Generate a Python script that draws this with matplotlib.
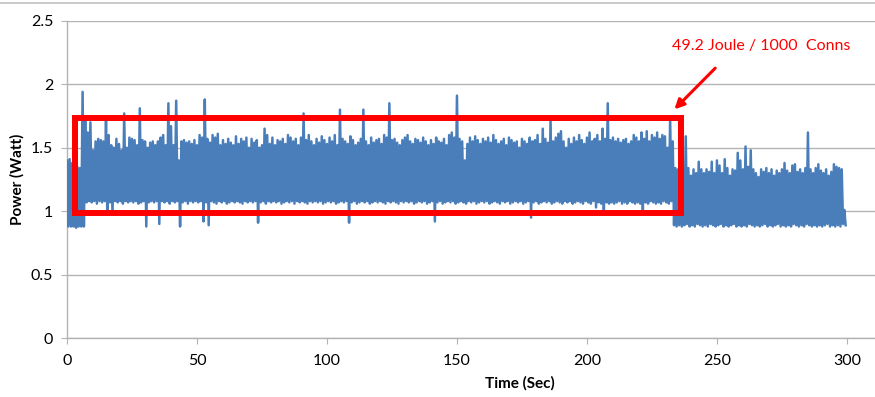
import numpy as np
import matplotlib
matplotlib.use('Agg')
import matplotlib.pyplot as plt
from matplotlib.patches import Rectangle
from matplotlib.lines import Line2D

plt.rcParams['font.family'] = ['Lato', 'DejaVu Sans']

# peak readings (1/100 W) at each whole second, 0..299
hi_vals = [
    140, 141, 138, 143, 135, 134, 194, 173, 162, 170,
    148, 155, 157, 156, 155, 171, 160, 152, 150, 157,
    153, 148, 177, 150, 158, 157, 156, 152, 181, 156,
    155, 150, 154, 155, 152, 155, 158, 160, 152, 185,
    167, 152, 187, 140, 155, 156, 154, 155, 153, 156,
    152, 160, 158, 188, 157, 154, 160, 158, 161, 152,
    156, 153, 157, 154, 152, 159, 153, 157, 155, 158,
    150, 157, 154, 156, 150, 152, 165, 160, 153, 158,
    152, 156, 155, 157, 153, 160, 158, 155, 157, 152,
    158, 177, 156, 160, 155, 152, 157, 154, 159, 156,
    153, 158, 155, 160, 152, 180, 157, 155, 153, 159,
    156, 152, 154, 157, 180, 155, 152, 158, 154, 156,
    157, 153, 160, 158, 185, 156, 157, 154, 152, 156,
    158, 160, 155, 153, 157, 156, 154, 158, 155, 152,
    156, 153, 158, 155, 154, 157, 152, 160, 162, 158,
    191, 157, 155, 140, 153, 158, 155, 159, 156, 153,
    157, 155, 158, 154, 160, 156, 153, 155, 157, 152,
    158, 156, 154, 155, 150, 157, 155, 153, 158, 155,
    156, 160, 153, 165, 157, 154, 172, 155, 158, 161,
    163, 155, 150, 157, 153, 158, 155, 160, 156, 153,
    158, 162, 155, 157, 160, 155, 165, 157, 185, 156,
    158, 155, 157, 154, 156, 157, 153, 155, 160, 158,
    155, 162, 157, 163, 155, 160, 158, 162, 157, 160,
    159, 150, 172, 155, 134, 133, 133, 130, 159, 134,
    128, 133, 130, 139, 133, 130, 133, 131, 139, 130,
    140, 136, 130, 141, 134, 128, 133, 132, 146, 140,
    133, 151, 135, 148, 133, 130, 127, 133, 131, 134,
    130, 133, 128, 132, 130, 133, 138, 132, 130, 136,
    137, 131, 133, 130, 134, 162, 133, 130, 134, 137,
    132, 130, 133, 128, 131, 137, 135, 134, 133, 101,
]

# low readings (1/100 W) at each half second, 0.5..299.5
lo_vals = [
    88, 88, 88, 87, 88, 88, 88, 107, 108, 107,
    108, 106, 108, 107, 108, 98, 107, 98, 108, 107,
    108, 106, 108, 107, 108, 107, 108, 106, 107, 108,
    88, 107, 108, 107, 108, 90, 108, 107, 108, 106,
    108, 107, 108, 88, 107, 108, 106, 108, 107, 108,
    107, 108, 92, 107, 89, 108, 107, 106, 108, 107,
    108, 106, 107, 108, 107, 108, 107, 106, 108, 107,
    108, 107, 108, 91, 107, 108, 106, 108, 107, 108,
    107, 108, 106, 107, 108, 107, 108, 106, 108, 107,
    108, 107, 106, 108, 107, 108, 107, 108, 106, 107,
    108, 107, 108, 106, 107, 108, 107, 108, 91, 107,
    108, 106, 107, 108, 107, 108, 106, 107, 108, 107,
    108, 107, 106, 108, 107, 108, 107, 106, 108, 107,
    108, 107, 108, 106, 107, 108, 107, 108, 106, 107,
    108, 92, 107, 108, 106, 107, 108, 107, 108, 106,
    107, 108, 107, 106, 108, 107, 108, 106, 107, 108,
    107, 108, 106, 107, 108, 107, 106, 108, 107, 108,
    106, 107, 108, 107, 108, 106, 107, 108, 95, 107,
    108, 106, 107, 108, 107, 108, 106, 107, 108, 107,
    106, 108, 107, 108, 106, 107, 108, 107, 106, 108,
    107, 106, 108, 103, 107, 106, 101, 107, 106, 107,
    106, 107, 108, 106, 107, 106, 108, 107, 106, 107,
    106, 101, 107, 106, 108, 107, 106, 107, 106, 108,
    107, 106, 108, 89, 88, 89, 88, 89, 90, 88,
    89, 88, 90, 89, 88, 89, 88, 90, 89, 88,
    89, 90, 88, 89, 88, 89, 90, 88, 89, 88,
    89, 88, 90, 89, 88, 89, 88, 89, 90, 88,
    89, 88, 89, 90, 88, 89, 88, 89, 88, 90,
    89, 88, 89, 88, 90, 89, 88, 89, 88, 89,
    88, 89, 90, 88, 89, 88, 89, 88, 90, 89,
]

x_ticks = [0, 50, 100, 150, 200, 250, 300]
y_ticks = [0, 0.5, 1, 1.5, 2, 2.5]
y_labels = ['0', '0.5', '1', '1.5', '2', '2.5']
note = '49.2 Joule / 1000  Conns'

t_hi = np.arange(len(hi_vals))
t_lo = t_hi + 0.5
time = np.column_stack([t_hi, t_lo]).ravel()
power = np.column_stack([hi_vals, lo_vals]).ravel() / 100.0

fig = plt.figure(figsize=(8.75, 3.97), dpi=100)
ax = fig.add_axes([67 / 875, 1 - 338.3 / 397, 1 - 67 / 875, 317.6 / 397])

ax.plot(time, power, color='#4a7ebb', lw=1.8, zorder=3)

ax.set_xlim(0, 310.8)
ax.set_ylim(0, 2.5)
ax.set_xticks(x_ticks)
ax.set_yticks(y_ticks)
ax.set_yticklabels(y_labels)
ax.grid(axis='y', color='#b3b3b3', lw=1)
ax.set_axisbelow(True)
for s in ['top', 'right']:
    ax.spines[s].set_visible(False)
for s in ['left', 'bottom']:
    ax.spines[s].set_color('#b3b3b3')
    ax.spines[s].set_linewidth(1)
ax.tick_params(colors='#b3b3b3', labelcolor='black', labelsize=11.5, length=4)
ax.tick_params(axis='x', pad=7)
ax.tick_params(axis='y', pad=6)

ax.set_xlabel('Time (Sec)', fontsize=11, fontweight='bold')
ax.set_ylabel('Power (Watt)', fontsize=11, fontweight='bold')
ax.xaxis.set_label_coords((520 - 67) / 808, -0.12)
ax.yaxis.set_label_coords((25 - 67) / 808, 0.5)

ax.add_patch(Rectangle((3.1, 0.99), 233, 0.745, fill=False,
                       edgecolor='#ff0000', lw=4.3, zorder=4))
ax.annotate('', xy=(232.9, 1.787), xytext=(250.1, 2.142),
            arrowprops=dict(arrowstyle='-|>', color='#ff0000', lw=2.2,
                            mutation_scale=14), zorder=5)
ax.text(267, 2.30, note, color='#ff0000', fontsize=11.5,
        ha='center', va='center')

fig.add_artist(Line2D([0, 1], [1 - 3.3 / 397] * 2, color='#c0c0c0', lw=1.2))

fig.savefig('out.png', dpi=100)
